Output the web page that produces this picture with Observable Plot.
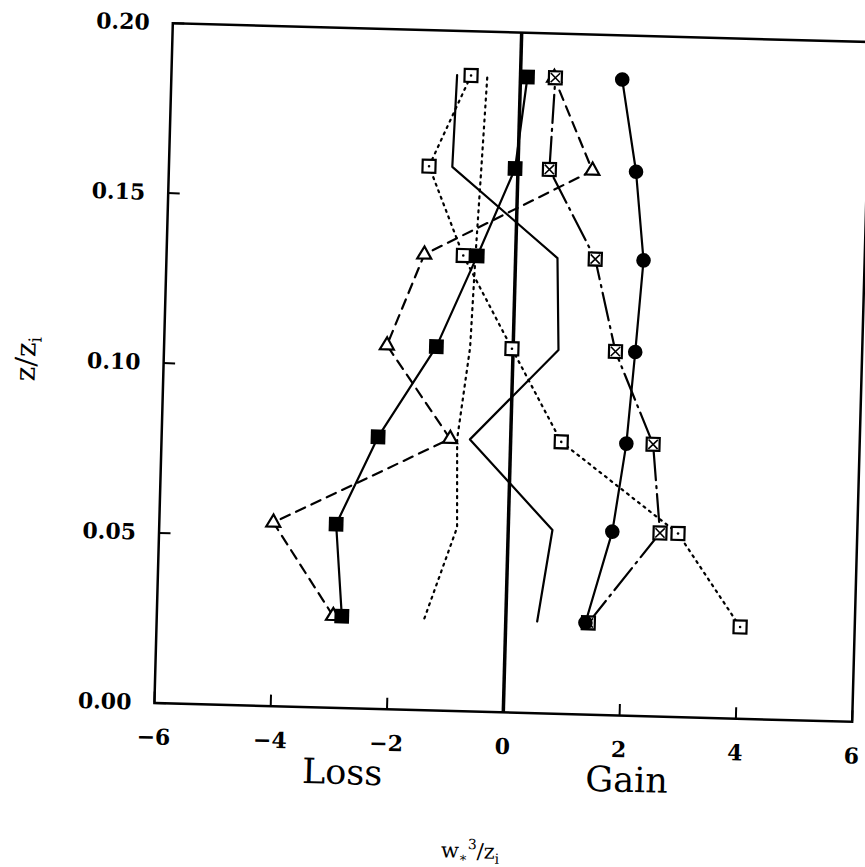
<!DOCTYPE html>
<html><head><meta charset="utf-8">
<script src="https://cdn.jsdelivr.net/npm/d3@7"></script>
<script src="https://cdn.jsdelivr.net/npm/@observablehq/plot@0.6"></script>
<style>
html,body{margin:0;padding:0;background:#fff;overflow:hidden;width:865px;height:867px;}
#chart{position:absolute;left:0;top:0;}
</style></head><body><div id="chart"></div>
<script>
// ---- data (z/zi levels, bottom to top) ----
const levels = [0.027, 0.054, 0.080, 0.107, 0.134, 0.160, 0.187];
const filledSquares  = [-2.82, -2.96, -2.28, -1.32, -0.66, -0.05, 0.12];
const filledCircles  = [1.37, 1.79, 1.99, 2.10, 2.20, 2.03, 1.75];
const crossedSquares = [1.42, 2.61, 2.45, 1.76, 1.37, 0.54, 0.60];
const dottedSquares  = [4.03, 2.92, 0.87, -0.02, -0.90, -1.53, -0.85];
const triangles      = [-2.97, -4.04, -1.04, -2.17, -1.57, 1.28, 0.58];
const solidPlain     = [0.54, 0.76, -0.70, 0.78, 0.72, -1.13, -1.09];
const dottedPlain    = [-1.40, -0.88, -0.92, -0.74, -0.69, -0.63, -0.57];
const xTicks = [-6, -4, -2, 0, 2, 4, 6];
const yTicks = [0, 0.05, 0.10, 0.15, 0.20];
const sideLabels = [{label: "Loss", x: -2.74}, {label: "Gain", x: 2.15}];

// ---- layout ----
const W = 865, H = 867;
const margin = {left: 163, right: 4, top: 32, bottom: 155};
const innerW = W - margin.left - margin.right;
const innerH = H - margin.top - margin.bottom;

const seriesDefs = [
  {key: "solidPlain", values: solidPlain, dash: null},
  {key: "dottedPlain", values: dottedPlain, dash: "2,5"},
  {key: "dottedSquares", values: dottedSquares, dash: "2,5"},
  {key: "triangles", values: triangles, dash: "10,7"},
  {key: "crossedSquares", values: crossedSquares, dash: "28,6,2,6"},
  {key: "filledSquares", values: filledSquares, dash: null},
  {key: "filledCircles", values: filledCircles, dash: null}
];
const rows = seriesDefs.flatMap(s => s.values.map((x, i) => ({series: s.key, x, y: levels[i]})));
const of = k => rows.filter(d => d.series === k);

const plot = Plot.plot({
  width: W, height: H,
  marginLeft: margin.left, marginRight: margin.right, marginTop: margin.top, marginBottom: margin.bottom,
  style: {fontFamily: "DejaVu Serif", fontSize: "22px", fontWeight: "bold", color: "black", background: "transparent", overflow: "visible"},
  x: {domain: [-6, 6], ticks: xTicks, tickSize: 0, tickPadding: 26, label: null},
  y: {domain: [0, 0.2], ticks: yTicks, tickFormat: ".2f", tickSize: 0, tickPadding: 23, label: null},
  marks: [
    Plot.frame({stroke: "black", strokeWidth: 2.5}),
    Plot.tickY(yTicks, {y: d => d, insetRight: innerW - 12, strokeWidth: 2}),
    Plot.tickX(xTicks, {x: d => d, insetTop: innerH - 11, strokeWidth: 2}),
    Plot.ruleX([0], {strokeWidth: 3.5}),
    ...seriesDefs.map(s => Plot.line(of(s.key), {x: "x", y: "y", stroke: "black", strokeWidth: 2.2, strokeDasharray: s.dash})),
    // open squares with centre dot
    Plot.dot(of("dottedSquares"), {x: "x", y: "y", symbol: "square", r: 7.3, fill: "white", stroke: "black", strokeWidth: 2.2}),
    Plot.dot(of("dottedSquares"), {x: "x", y: "y", r: 1.3, fill: "black"}),
    // triangles
    Plot.dot(of("triangles"), {x: "x", y: "y", symbol: "triangle", r: 5.2, fill: "white", stroke: "black", strokeWidth: 2.2}),
    // crossed squares
    Plot.dot(of("crossedSquares"), {x: "x", y: "y", symbol: "square", r: 7.3, fill: "white", stroke: "black", strokeWidth: 2.2}),
    Plot.dot(of("crossedSquares"), {x: "x", y: "y", symbol: "times", r: 4.3, stroke: "black", strokeWidth: 1.6}),
    // filled squares
    Plot.dot(of("filledSquares"), {x: "x", y: "y", symbol: "square", r: 8.3, fill: "black"}),
    // filled circles
    Plot.dot(of("filledCircles"), {x: "x", y: "y", symbol: "circle", r: 7.3, fill: "black"}),
    Plot.text(sideLabels, {x: "x", text: "label", frameAnchor: "bottom", dy: 76, fontSize: 35, fontWeight: "normal"})
  ]
});

const svg = d3.select(plot);
// x-axis title  w*^3 / z_i
const xt = svg.append("text")
  .attr("x", margin.left + innerW / 2 - 29)
  .attr("y", H - margin.bottom + 147)
  .attr("text-anchor", "middle")
  .attr("font-size", 21).attr("font-weight", "normal").attr("fill", "black");
xt.append("tspan").text("w");
xt.append("tspan").attr("dy", 4).attr("font-size", 13).text("∗");
xt.append("tspan").attr("dy", -13).attr("font-size", 14).text("3");
xt.append("tspan").attr("dy", 9).text("/z");
xt.append("tspan").attr("dy", 5).attr("font-size", 14).text("i");
// y-axis title  z / z_i
const yt = svg.append("text")
  .attr("transform", `translate(${margin.left - 128},${margin.top + innerH / 2}) rotate(-90)`)
  .attr("text-anchor", "middle")
  .attr("font-size", 28).attr("font-weight", "normal").attr("fill", "black");
yt.append("tspan").text("z/z");
yt.append("tspan").attr("dy", 6).attr("font-size", 18).text("i");

plot.style.transformOrigin = `${margin.left + innerW / 2}px ${margin.top + innerH / 2}px`;
plot.style.transform = "rotate(1.55deg)";
document.getElementById("chart").appendChild(plot);
</script>
</body></html>
